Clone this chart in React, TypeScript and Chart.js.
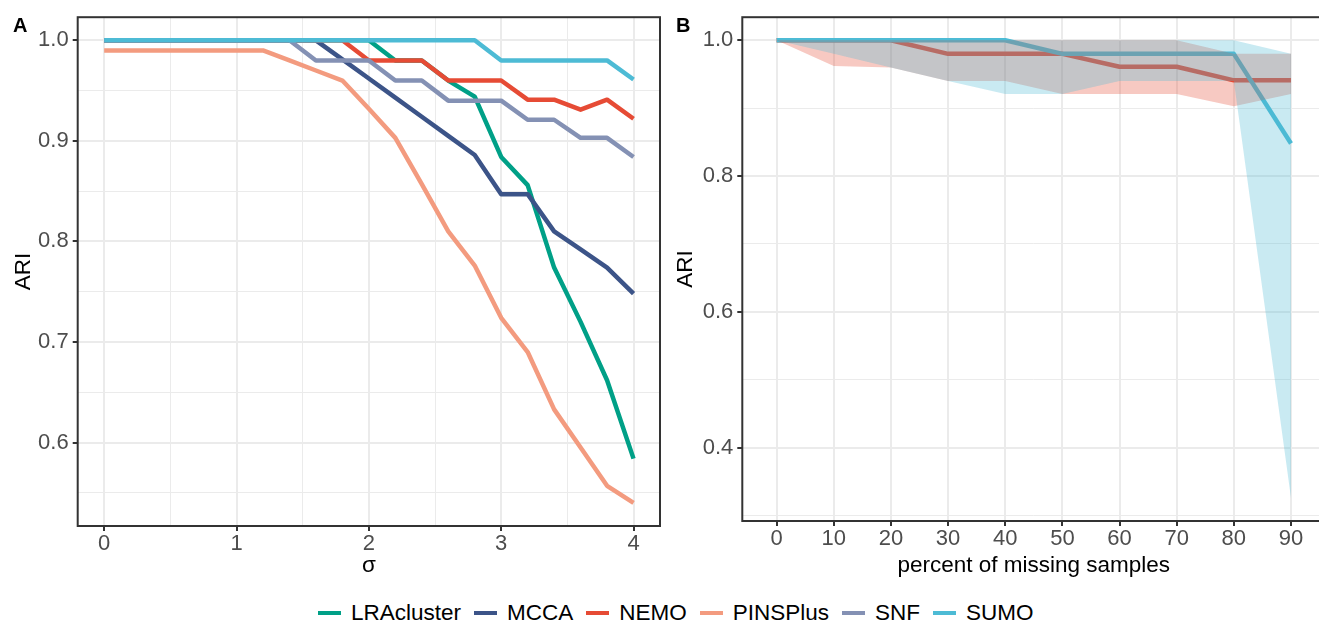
import React, { useEffect, useRef } from "react";
import { Chart, registerables } from "chart.js";

Chart.register(...registerables);

// ---------- Panel A data ----------
const sigma = [0, 0.2, 0.4, 0.6, 0.8, 1.0, 1.2, 1.4, 1.6, 1.8, 2.0, 2.2, 2.4, 2.6, 2.8, 3.0, 3.2, 3.4, 3.6, 3.8, 4.0];
const lraCluster = [1, 1, 1, 1, 1, 1, 1, 1, 1, 1, 1, 0.98, 0.98, 0.96, 0.944, 0.884, 0.856, 0.774, 0.72, 0.662, 0.584];
const mcca = [1, 1, 1, 1, 1, 1, 1, 1, 1, 0.981, 0.962, 0.943, 0.924, 0.905, 0.886, 0.847, 0.847, 0.81, 0.792, 0.774, 0.748];
const nemo = [1, 1, 1, 1, 1, 1, 1, 1, 1, 1, 0.98, 0.98, 0.98, 0.96, 0.96, 0.96, 0.941, 0.941, 0.931, 0.941, 0.922];
const pinsPlus = [0.99, 0.99, 0.99, 0.99, 0.99, 0.99, 0.99, 0.98, 0.97, 0.96, 0.932, 0.903, 0.857, 0.81, 0.776, 0.724, 0.69, 0.633, 0.595, 0.557, 0.54];
const snf = [1, 1, 1, 1, 1, 1, 1, 1, 0.98, 0.98, 0.98, 0.96, 0.96, 0.94, 0.94, 0.94, 0.921, 0.921, 0.903, 0.903, 0.884];
const sumo = [1, 1, 1, 1, 1, 1, 1, 1, 1, 1, 1, 1, 1, 1, 1, 0.98, 0.98, 0.98, 0.98, 0.98, 0.961];

const methods = ["LRAcluster", "MCCA", "NEMO", "PINSPlus", "SNF", "SUMO"];
const methodColors = ["#00A087", "#3C5488", "#E64B35", "#F39B7F", "#8491B4", "#4DBBD5"];
const seriesA = [lraCluster, mcca, nemo, pinsPlus, snf, sumo];

const xTicksA = [0, 0.5, 1, 1.5, 2, 2.5, 3, 3.5, 4];
const yTicksA = [0.55, 0.6, 0.65, 0.7, 0.75, 0.8, 0.85, 0.9, 0.95, 1.0];

// ---------- Panel B data ----------
const missingPct = [0, 10, 20, 30, 40, 50, 60, 70, 80, 90];
const nemoMeanB = [1, 1, 1, 0.98, 0.98, 0.98, 0.961, 0.961, 0.941, 0.941];
const nemoLowerB = [1, 0.962, 0.96, 0.94, 0.94, 0.921, 0.921, 0.921, 0.903, 0.921];
const nemoUpperB = [1, 1, 1, 1, 1, 1, 1, 1, 0.98, 0.98];
const sumoMeanB = [1, 1, 1, 1, 1, 0.98, 0.98, 0.98, 0.98, 0.848];
const sumoLowerB = [1, 0.98, 0.96, 0.94, 0.921, 0.921, 0.94, 0.94, 0.94, 0.326];
const sumoUpperB = [1, 1, 1, 1, 1, 1, 1, 1, 1, 0.98];

const xTicksB = [0, 10, 20, 30, 40, 50, 60, 70, 80, 90];
const yTicksB = [0.3, 0.4, 0.5, 0.6, 0.7, 0.8, 0.9, 1.0];

const FONT = "'Liberation Sans', Arial, Helvetica, sans-serif";

const panelBorder = {
  id: "panelBorder",
  afterDatasetsDraw(chart: any) {
    const { ctx, chartArea } = chart;
    const { left, top, right, bottom } = chartArea;
    ctx.save();
    ctx.strokeStyle = "#333333";
    ctx.lineWidth = 2;
    ctx.strokeRect(left, top, right - left, bottom - top);
    ctx.restore();
  },
};

function makeScale(kind: "x" | "y", o: any) {
  return {
    type: "linear",
    position: kind === "x" ? "bottom" : "left",
    min: o.min,
    max: o.max,
    afterBuildTicks: (s: any) => {
      s.ticks = o.ticks.map((v: number) => ({ value: v }));
    },
    afterFit: (s: any) => {
      if (kind === "x") s.height = o.fit;
      else s.width = o.fit;
    },
    border: { display: false },
    grid: {
      color: "#EBEBEB",
      lineWidth: (c: any) => (c.tick && o.isMajor(c.tick.value) ? 2 : 1),
      drawTicks: true,
      tickLength: 5,
      tickWidth: 2,
      tickColor: (c: any) => (c.tick && o.isMajor(c.tick.value) ? "#333333" : "rgba(0,0,0,0)"),
    },
    ticks: {
      autoSkip: false,
      maxRotation: 0,
      minRotation: 0,
      padding: kind === "x" ? 0 : 4,
      color: "#4D4D4D",
      font: { family: FONT, size: 22 },
      callback: (v: any) => (o.isMajor(Number(v)) ? o.label(Number(v)) : ""),
    },
    title: {
      display: true,
      text: o.title,
      color: "#000000",
      font: { family: FONT, size: 22.5 },
      padding: o.titlePad,
    },
  };
}

const near = (a: number, b: number) => Math.abs(a - b) < 1e-6;

export default function App() {
  const refA = useRef<HTMLCanvasElement>(null);
  const refB = useRef<HTMLCanvasElement>(null);

  useEffect(() => {
    const common = {
      responsive: false,
      maintainAspectRatio: false,
      animation: false,
      events: [],
      plugins: { legend: { display: false }, tooltip: { enabled: false } },
      elements: {
        point: { radius: 0, hoverRadius: 0 },
        line: { tension: 0, borderJoinStyle: "round", borderCapStyle: "butt" },
      },
    };

    const chartA = new Chart(refA.current as HTMLCanvasElement, {
      type: "line",
      data: {
        datasets: methods.map((name, i) => ({
          label: name,
          data: sigma.map((x, j) => ({ x, y: seriesA[i][j] })),
          borderColor: methodColors[i],
          backgroundColor: methodColors[i],
          borderWidth: 4.5,
          fill: false,
          order: 6 - i,
        })),
      },
      options: {
        ...common,
        layout: { padding: { top: 15.7, right: 12, bottom: 0, left: 0 } },
        scales: {
          x: makeScale("x", {
            min: -0.2,
            max: 4.2,
            ticks: xTicksA,
            isMajor: (v: number) => near(v, Math.round(v)),
            label: (v: number) => String(Math.round(v)),
            title: "σ",
            fit: 74,
            titlePad: { top: 0, bottom: 21 },
          }),
          y: makeScale("y", {
            min: 0.517,
            max: 1.023,
            ticks: yTicksA,
            isMajor: (v: number) => near(v * 10, Math.round(v * 10)),
            label: (v: number) => v.toFixed(1),
            title: "ARI",
            fit: 77.7,
            titlePad: { top: 10.5, bottom: 0 },
          }),
        },
      } as any,
      plugins: [panelBorder],
    } as any);

    const transparent = "rgba(0,0,0,0)";
    const chartB = new Chart(refB.current as HTMLCanvasElement, {
      type: "line",
      data: {
        datasets: [
          {
            label: "NEMO upper",
            data: missingPct.map((x, j) => ({ x, y: nemoUpperB[j] })),
            borderColor: transparent,
            borderWidth: 0,
            backgroundColor: "rgba(230,75,53,0.3)",
            fill: "+1",
            order: 4,
          },
          {
            label: "NEMO lower",
            data: missingPct.map((x, j) => ({ x, y: nemoLowerB[j] })),
            borderColor: transparent,
            borderWidth: 0,
            fill: false,
            order: 3,
          },
          {
            label: "SUMO upper",
            data: missingPct.map((x, j) => ({ x, y: sumoUpperB[j] })),
            borderColor: transparent,
            borderWidth: 0,
            backgroundColor: "rgba(77,187,213,0.3)",
            fill: "+1",
            order: 2,
          },
          {
            label: "SUMO lower",
            data: missingPct.map((x, j) => ({ x, y: sumoLowerB[j] })),
            borderColor: transparent,
            borderWidth: 0,
            fill: false,
            order: 1,
          },
          {
            label: "NEMO",
            data: missingPct.map((x, j) => ({ x, y: nemoMeanB[j] })),
            borderColor: "#E64B35",
            borderWidth: 4.5,
            fill: false,
            order: 6,
          },
          {
            label: "SUMO",
            data: missingPct.map((x, j) => ({ x, y: sumoMeanB[j] })),
            borderColor: "#4DBBD5",
            borderWidth: 4.5,
            fill: false,
            order: 5,
          },
        ],
      },
      options: {
        ...common,
        layout: { padding: { top: 15.7, right: 16.7, bottom: 0, left: 0 } },
        scales: {
          x: makeScale("x", {
            min: -6,
            max: 96,
            ticks: xTicksB,
            isMajor: () => true,
            label: (v: number) => String(Math.round(v)),
            title: "percent of missing samples",
            fit: 79,
            titlePad: { top: 0, bottom: 21 },
          }),
          y: makeScale("y", {
            min: 0.292,
            max: 1.034,
            ticks: yTicksB,
            isMajor: (v: number) => near(v * 5, Math.round(v * 5)),
            label: (v: number) => v.toFixed(1),
            title: "ARI",
            fit: 80.3,
            titlePad: { top: 10.5, bottom: 0 },
          }),
        },
      } as any,
      plugins: [panelBorder],
    } as any);

    return () => {
      chartA.destroy();
      chartB.destroy();
    };
  }, []);

  return (
    <div
      style={{
        position: "fixed",
        left: 0,
        top: 0,
        width: 1319,
        height: 623,
        overflow: "hidden",
        background: "#ffffff",
        fontFamily: FONT,
      }}
    >
      <canvas ref={refA} width={672} height={600} style={{ position: "absolute", left: 0, top: 0 }} />
      <canvas ref={refB} width={680} height={600} style={{ position: "absolute", left: 662, top: 0 }} />
      <div style={{ position: "absolute", left: 13, top: 14.6, fontSize: 20, fontWeight: "bold", lineHeight: "20px", color: "#000" }}>A</div>
      <div style={{ position: "absolute", left: 676, top: 14.6, fontSize: 20, fontWeight: "bold", lineHeight: "20px", color: "#000" }}>B</div>
      <div
        style={{
          position: "absolute",
          left: 318,
          top: 600,
          height: 26,
          display: "flex",
          alignItems: "center",
          fontSize: 22.5,
          color: "#000",
          whiteSpace: "nowrap",
        }}
      >
        {methods.map((name, i) => (
          <div key={name} style={{ display: "flex", alignItems: "center", marginRight: i < methods.length - 1 ? 13 : 0 }}>
            <span style={{ display: "inline-block", width: 23, height: 4.5, background: methodColors[i], marginRight: 10 }} />
            <span>{name}</span>
          </div>
        ))}
      </div>
    </div>
  );
}
